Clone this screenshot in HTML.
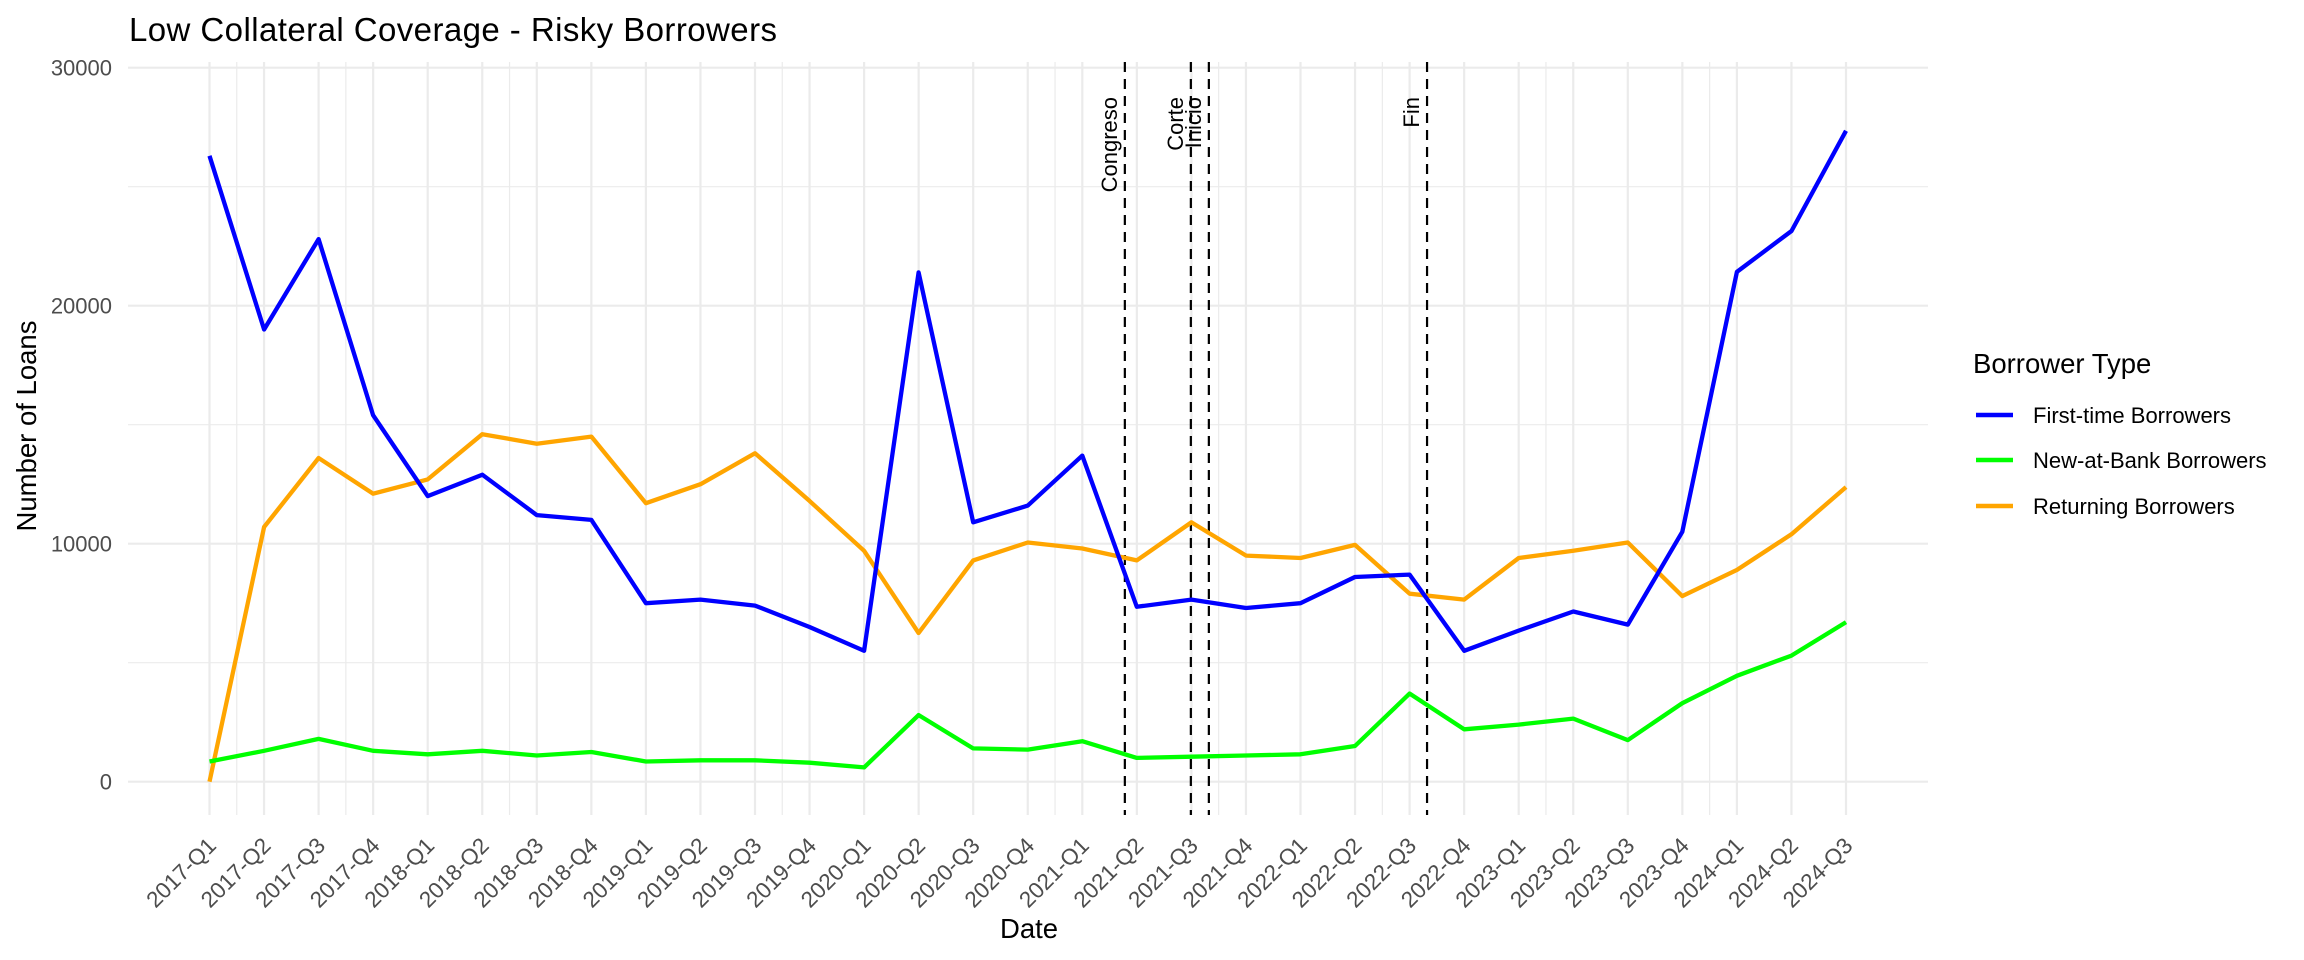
<!DOCTYPE html>
<html><head><meta charset="utf-8"><style>
html,body{margin:0;padding:0;background:#fff;}
svg{display:block;font-family:"Liberation Sans",Arial,sans-serif;}
</style></head><body>
<svg id="chart" width="2304" height="960" viewBox="0 0 2304 960">
<g id="grid"></g>
<g id="vlines"></g>
<g id="series"></g>
<g id="axes"></g>
<text x="129" y="41" font-size="33" textLength="648" fill="#000">Low Collateral Coverage - Risky Borrowers</text>
<text x="1029" y="938" font-size="27.5" text-anchor="middle" fill="#000">Date</text>
<text transform="translate(36,426) rotate(-90)" font-size="27.5" text-anchor="middle" fill="#000">Number of Loans</text>
<g>
<text x="1973" y="373" font-size="27.5" fill="#000">Borrower Type</text>
<g><line x1="1976" x2="2013" y1="415" y2="415" stroke="#0000ff" stroke-width="4.5"/><text x="2033" y="423" font-size="22" fill="#000">First-time Borrowers</text></g>
<g><line x1="1976" x2="2013" y1="460" y2="460" stroke="#00ff00" stroke-width="4.5"/><text x="2033" y="468" font-size="22" fill="#000">New-at-Bank Borrowers</text></g>
<g><line x1="1976" x2="2013" y1="506" y2="506" stroke="#ffa500" stroke-width="4.5"/><text x="2033" y="514" font-size="22" fill="#000">Returning Borrowers</text></g>
</g>
</svg>
<script>
const categories = ["2017-Q1","2017-Q2","2017-Q3","2017-Q4","2018-Q1","2018-Q2","2018-Q3","2018-Q4","2019-Q1","2019-Q2","2019-Q3","2019-Q4","2020-Q1","2020-Q2","2020-Q3","2020-Q4","2021-Q1","2021-Q2","2021-Q3","2021-Q4","2022-Q1","2022-Q2","2022-Q3","2022-Q4","2023-Q1","2023-Q2","2023-Q3","2023-Q4","2024-Q1","2024-Q2","2024-Q3"];
const firstTime = [26300,19000,22800,15400,12000,12900,11200,11000,7500,7650,7400,6500,5500,21400,10900,11600,13700,7350,7650,7300,7500,8600,8700,5500,6350,7150,6600,10500,21420,23140,27350];
const newAtBank = [850,1300,1800,1300,1150,1300,1100,1250,850,900,900,800,600,2800,1400,1350,1700,1000,1050,1100,1150,1500,3700,2200,2400,2650,1750,3300,4450,5300,6700];
const returning = [0,10700,13600,12100,12700,14600,14200,14500,11700,12500,13800,11800,9700,6250,9300,10050,9800,9300,10900,9500,9400,9950,7900,7650,9400,9700,10050,7800,8900,10400,12380];
const yTicks = [0,10000,20000,30000];
const yMinor = [5000,15000,25000];
const eventNames = ["Congreso","Corte","Inicio","Fin"];
const eventPos = [16.78,17.99,18.32,22.32];
const minorGaps = [0,2,5,10,15,18,21,24,27];

const NS="http://www.w3.org/2000/svg";
const X0=209.5, X1=1846, Y0=781.7, YK=0.0238;
const PL=128, PR=1928, PT=62, PB=815;
function xs(i){return X0+(X1-X0)*i/(categories.length-1);}
function ys(v){return Y0-v*YK;}
function mk(tag,attrs,parent){const e=document.createElementNS(NS,tag);for(const k in attrs)e.setAttribute(k,attrs[k]);parent.appendChild(e);return e;}
const grid=document.getElementById('grid');
yMinor.forEach(v=>{const l=mk('line',{x1:PL,x2:PR,y1:ys(v),y2:ys(v),stroke:'#ebebeb','stroke-width':1.2},grid);

});
minorGaps.forEach(g=>{const x=xs(g+0.5);const l=mk('line',{x1:x,x2:x,y1:PT,y2:PB,stroke:'#ebebeb','stroke-width':1.2},grid);

});
yTicks.forEach(v=>{const l=mk('line',{x1:PL,x2:PR,y1:ys(v),y2:ys(v),stroke:'#ebebeb','stroke-width':2.2},grid);

});
categories.forEach((c,i)=>{const x=xs(i);const l=mk('line',{x1:x,x2:x,y1:PT,y2:PB,stroke:'#ebebeb','stroke-width':2.2},grid);

});
const axes=document.getElementById('axes');
yTicks.forEach(v=>{const t=mk('text',{x:112,y:ys(v)+8,'text-anchor':'end','font-size':22,fill:'#4d4d4d'},axes);t.textContent=String(v);

});
categories.forEach((c,i)=>{const x=xs(i)+8;const t=mk('text',{transform:`translate(${x},847) rotate(-45)`,'text-anchor':'end','font-size':22.5,fill:'#4d4d4d'},axes);t.textContent=c;

});
const vl=document.getElementById('vlines');
eventNames.forEach((n,i)=>{const x=xs(eventPos[i]);
const l=mk('line',{x1:x,x2:x,y1:PT,y2:PB,stroke:'#000','stroke-width':2.2,'stroke-dasharray':'10 7'},vl);


const t=mk('text',{transform:`translate(${x-8},97) rotate(-90)`,'text-anchor':'end','font-size':22,fill:'#000'},vl);t.textContent=n;

});
const series=document.getElementById('series');
[[returning,'#ffa500','returning-line'],[newAtBank,'#00ff00','new-at-bank-line'],[firstTime,'#0000ff','first-time-line']].forEach(([d,c,name])=>{
const pts=d.map((v,i)=>xs(i).toFixed(1)+','+ys(v).toFixed(1)).join(' ');
const p=mk('polyline',{points:pts,fill:'none',stroke:c,'stroke-width':4.3,'stroke-linejoin':'round'},series);

});
</script>
</body></html>
